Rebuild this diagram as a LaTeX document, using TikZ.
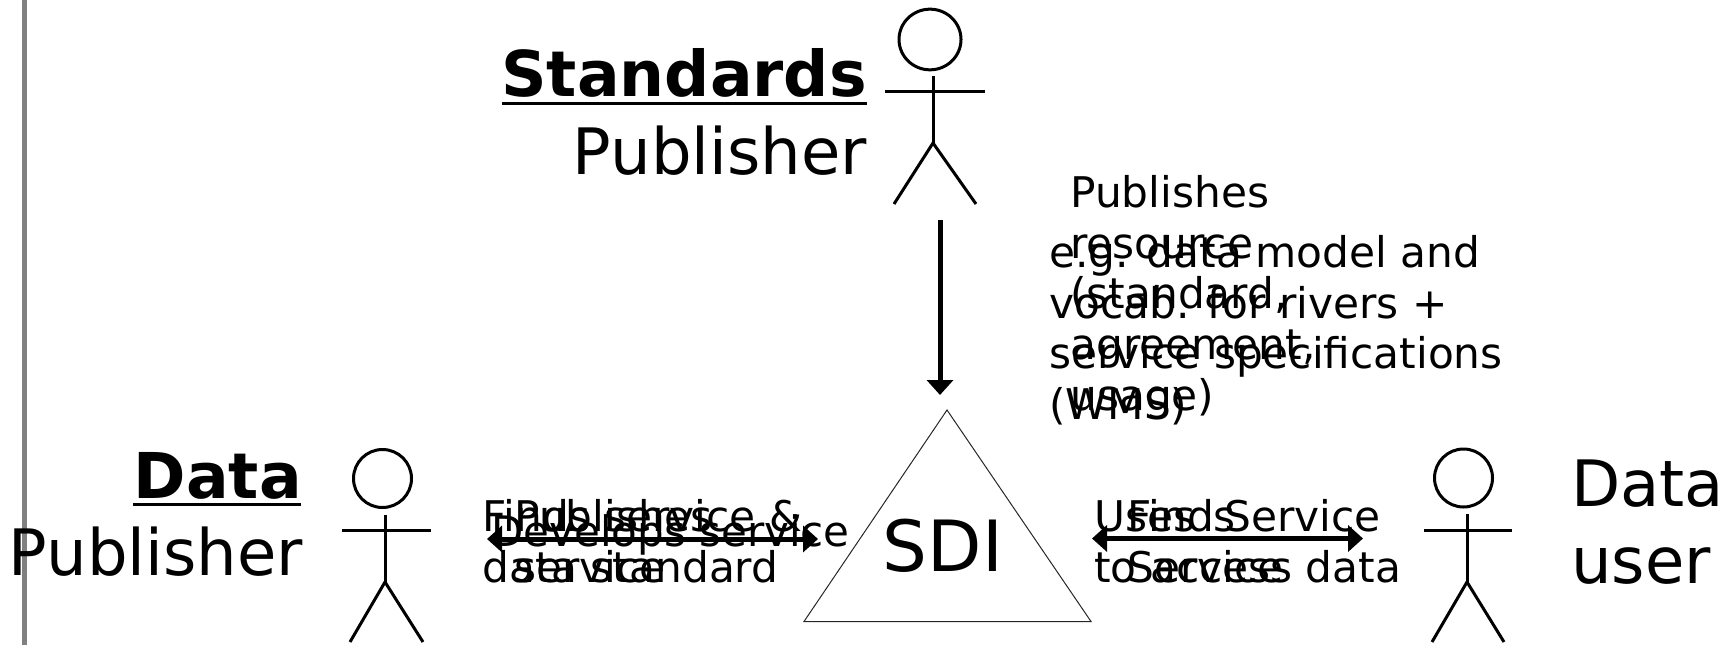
\documentclass[tikz,border=0pt]{standalone}
\usepackage{fontspec}
\setmainfont{DejaVu Sans}
\usetikzlibrary{arrows.meta}
\tikzset{
  x=0.75pt,y=-0.75pt,
  limb/.style={line width=2.25pt,black},
  bigarrow/.style={line width=3.75pt,black,-{Triangle[length=11.25pt,width=19.5pt]}},
  bothway/.style={line width=3.75pt,black,{Triangle[length=11.25pt,width=19.5pt]}-{Triangle[length=11.25pt,width=19.5pt]}},
  biglabel/.style={inner sep=0pt,font=\fontsize{48}{57.75}\selectfont},
  sdilabel/.style={inner sep=0pt,font=\fontsize{53}{60}\selectfont},
  boldlabel/.style={inner sep=0pt,font=\fontsize{47.4}{57.75}\selectfont\bfseries},
  smalllabel/.style={inner sep=0pt,align=left,font=\fontsize{31.7}{38}\selectfont},
  devlabel/.style={inner sep=0pt,align=left,font=\fontsize{31.5}{38}\selectfont},
  ruleline/.style={line width=2.25pt,black}
}
\begin{document}
\begin{tikzpicture}
\useasboundingbox (0,0) rectangle (1733,645);
% margin rule
\draw[line width=3.75pt,color=gray] (24.5,0) -- (24.5,645);
% Standards publisher figure
\draw[limb] (930,39.5) ellipse[x radius=23.25pt,y radius=22.75pt];
\draw[limb] (933,76) -- (933,143);
\draw[limb] (885,91.5) -- (985,91.5);
\draw[limb] (894,204) -- (933,143) -- (976,204);
% Data publisher figure
\draw[limb] (382.5,478.5) circle[radius=21.75pt];
\draw[limb] (385,515) -- (385,582);
\draw[limb] (342,530) -- (431,530);
\draw[limb] (350,642) -- (385,582) -- (423,642);
% Data user figure
\draw[limb] (1463.5,478) circle[radius=21.75pt];
\draw[limb] (1467,514) -- (1467,582);
\draw[limb] (1424,530) -- (1512,530);
\draw[limb] (1432,642) -- (1467,582) -- (1504,642);
% SDI triangle
\coordinate (apex) at (947,410);
\coordinate (bl) at (804,621.5);
\coordinate (br) at (1091,621.5);
\draw[line width=0.75pt,black!85] (apex) -- (bl) -- (br) -- cycle;
\node[sdilabel,anchor=base] (sdi) at (943,571) {SDI};
% titles
\node[boldlabel,anchor=base east] (std) at (867,97) {Standards};
\node[biglabel,anchor=base east] (stdp) at (867,175) {Publisher};
\node[boldlabel,anchor=base east] (dat) at (302,498) {Data};
\node[biglabel,anchor=base east] (datp) at (303,575) {Publisher};
\node[biglabel,anchor=base west] (usr1) at (1571,506) {Data};
\node[biglabel,anchor=base west] (usr2) at (1571,583) {user};
\draw[ruleline] (502,103.5) -- (867,103.5);
\draw[ruleline] (133,504) -- (301,504);
% upper labels
\node[smalllabel,anchor=base west] (pub) at (1070,410) {Publishes\\resource\\(standard,\\agreement,\\usage)};
\node[smalllabel,anchor=base west] (eg) at (1049,419.5) {e.g. data model and\\vocab. for rivers +\\service specifications\\(WMS)};
% left labels
\node[smalllabel,anchor=base west] (finds) at (482,582) {Finds service \&\\data standard};
\node[smalllabel,anchor=base west] (publish) at (514,582) {Publishes\\service};
\node[devlabel,anchor=base west] (dev) at (491,546) {Develops service};
% right labels
\node[smalllabel,anchor=base west] (uses) at (1094,582) {Uses\hspace{22pt}Service\\to access data};
\node[smalllabel,anchor=base west] (fnd) at (1127,582) {Finds\\Service};
% arrows
\coordinate (a1) at (940,220);
\coordinate (a2) at (940,395);
\draw[bigarrow] (a1) -- (a2);
\coordinate (b1) at (487,539);
\coordinate (b2) at (818,539);
\draw[bothway] (b1) -- (b2);
\coordinate (c1) at (1092,538.5);
\coordinate (c2) at (1363,538.5);
\draw[bothway] (c1) -- (c2);
\end{tikzpicture}
\end{document}
